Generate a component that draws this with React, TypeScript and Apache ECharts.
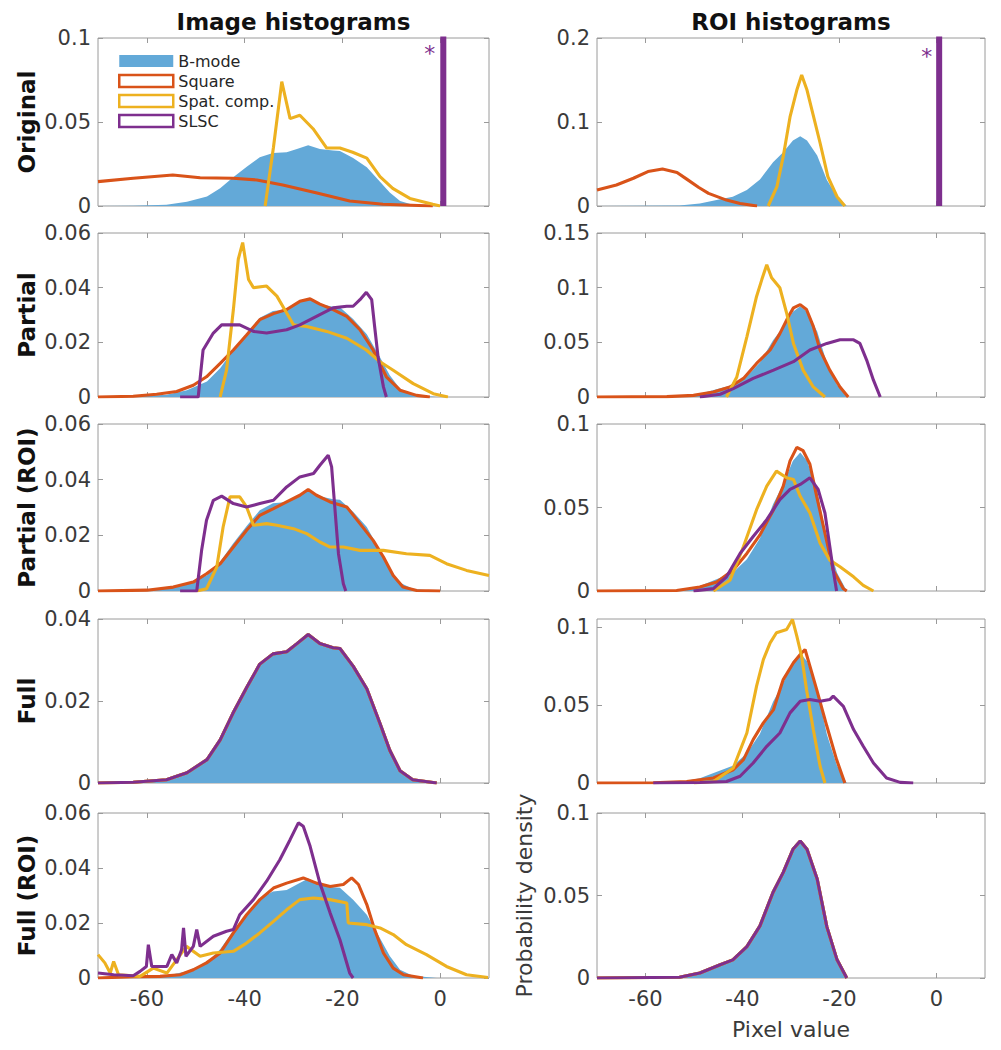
import React, { useEffect, useRef } from 'react';
import * as echarts from 'echarts';

// ---------- axes / labels ----------
const X_MIN = -70;
const X_MAX = 10;
const X_TICKS = [-60, -40, -20, 0];
const ROW_LABELS = ['Original', 'Partial', 'Partial (ROI)', 'Full', 'Full (ROI)'];
const COL_TITLES = ['Image histograms', 'ROI histograms'];
const SERIES_NAMES = ['B-mode', 'Square', 'Spat. comp.', 'SLSC'];
const Y_MAX_IMG = [0.1, 0.06, 0.06, 0.04, 0.06];
const Y_TICKS_IMG = [[0, 0.05, 0.1], [0, 0.02, 0.04, 0.06], [0, 0.02, 0.04, 0.06], [0, 0.02, 0.04], [0, 0.02, 0.04, 0.06]];
const Y_MAX_ROI = [0.2, 0.15, 0.1, 0.105, 0.1];
const Y_TICKS_ROI = [[0, 0.1, 0.2], [0, 0.05, 0.1, 0.15], [0, 0.05, 0.1], [0, 0.05, 0.1], [0, 0.05, 0.1]];
const X_LABEL = 'Pixel value';
const Y_LABEL = 'Probability density';
const ASTERISK_IMG: [number, number] = [-2.1, 0.091];
const ASTERISK_ROI: [number, number] = [-2.0, 0.178];

type P = [number, number][];

// ---------- B-mode (same in every row of a column) ----------
const BMODE_IMG: P = [[-70, 0], [-62.8, 0.0002], [-56, 0.0008], [-51.8, 0.0025], [-47.7, 0.0057], [-45, 0.0105], [-42.4, 0.017], [-39.5, 0.0235], [-36.9, 0.029], [-34.2, 0.0315], [-31.4, 0.032], [-29.3, 0.034], [-27, 0.0362], [-24.6, 0.034], [-21.9, 0.033], [-20.5, 0.0328], [-17.8, 0.0285], [-15, 0.023], [-12.3, 0.0145], [-10.3, 0.008], [-8.2, 0.003], [-5.6, 0.0008], [-0.7, 0]];
const BMODE_ROI: P = [[-70, 0], [-53, 0.0005], [-48.8, 0.003], [-44.6, 0.008], [-42, 0.011], [-39.1, 0.019], [-36.4, 0.0316], [-33.7, 0.052], [-31.6, 0.064], [-29.6, 0.078], [-28.1, 0.083], [-26.7, 0.078], [-24.6, 0.06], [-22.6, 0.031], [-20.5, 0.011], [-18.5, 0]];

// ---------- Original ----------
const ORIG_IMG_SQUARE: P = [[-70, 0.0145], [-62.8, 0.0165], [-54.7, 0.0185], [-49.1, 0.0168], [-42.4, 0.0165], [-37.5, 0.0155], [-32.2, 0.0125], [-25.2, 0.0077], [-18.5, 0.003], [-11.7, 0.001], [-1.5, 0]];
const ORIG_IMG_SPAT: P = [[-35.8, 0], [-34.1, 0.035], [-32.4, 0.074], [-30.7, 0.052], [-28.7, 0.054], [-26, 0.046], [-23.2, 0.0345], [-20.5, 0.0345], [-17.9, 0.032], [-15, 0.0285], [-12.3, 0.0175], [-9.7, 0.0105], [-6.2, 0.0045], [-1.5, 0.001], [0, 0]];
const ORIG_IMG_SLSC: P = [[0.35, 0], [0.35, 0.5], [0.95, 0.5], [0.95, 0]];
const ORIG_ROI_SQUARE: P = [[-70, 0.019], [-66, 0.025], [-62.5, 0.033], [-59.5, 0.041], [-56.5, 0.044], [-53.5, 0.04], [-51.5, 0.032], [-49, 0.022], [-47, 0.015], [-43.3, 0.007], [-40.5, 0.003], [-37, 0]];
const ORIG_ROI_SPAT: P = [[-34.7, 0], [-32.9, 0.023], [-31.6, 0.059], [-30.2, 0.106], [-28.8, 0.138], [-27.8, 0.156], [-26.7, 0.138], [-25.5, 0.11], [-24, 0.075], [-22.4, 0.035], [-20.5, 0.011], [-18.9, 0]];
const ORIG_ROI_SLSC: P = [[0.25, 0], [0.25, 0.5], [0.85, 0.5], [0.85, 0]];

// ---------- Partial ----------
const PART_IMG_SQUARE: P = [[-70, 0], [-62.8, 0.0003], [-58, 0.001], [-53.9, 0.002], [-50.5, 0.0043], [-47.8, 0.0074], [-45, 0.0123], [-42.3, 0.0172], [-39.6, 0.0227], [-36.9, 0.0283], [-34.1, 0.0305], [-31.4, 0.032], [-28.7, 0.035], [-26.6, 0.0359], [-24.6, 0.034], [-21.9, 0.032], [-19.1, 0.0295], [-16.4, 0.0246], [-13.7, 0.0172], [-11, 0.0074], [-8.2, 0.0025], [-4.8, 0.0006], [-2.1, 0]];
const PART_IMG_SPAT: P = [[-45, 0], [-43.7, 0.0098], [-42.3, 0.032], [-41.3, 0.0504], [-40.4, 0.0565], [-39.2, 0.043], [-38.2, 0.04], [-35.5, 0.0406], [-33.4, 0.0369], [-31.4, 0.0307], [-30, 0.0264], [-27.3, 0.0258], [-23.2, 0.024], [-19.1, 0.0215], [-15.1, 0.0172], [-12.3, 0.0129], [-9.6, 0.0098], [-5.5, 0.0049], [-1.4, 0.0012], [1.6, 0]];
const PART_IMG_SLSC: P = [[-53.2, 0], [-49.5, 0], [-48.5, 0.0172], [-46.4, 0.0234], [-44.7, 0.0264], [-41, 0.0264], [-38.2, 0.024], [-35.5, 0.0234], [-31.4, 0.0246], [-28.7, 0.0264], [-25.3, 0.0295], [-21.9, 0.0326], [-19.1, 0.0332], [-17.8, 0.0332], [-16.4, 0.0356], [-15.1, 0.0383], [-14, 0.0356], [-13.4, 0.0258], [-12.7, 0.0147], [-11.6, 0.0037], [-11, 0]];
const PART_ROI_SQUARE: P = [[-70, 0], [-55.6, 0.0003], [-50.1, 0.0015], [-46, 0.0046], [-42.6, 0.0092], [-39.8, 0.017], [-37.1, 0.0307], [-34.3, 0.043], [-32.3, 0.058], [-30.5, 0.0738], [-29.5, 0.0815], [-28.1, 0.0845], [-26.8, 0.08], [-25.4, 0.0646], [-24, 0.043], [-22, 0.0246], [-19.9, 0.0092], [-18.2, 0]];
const PART_ROI_SPAT: P = [[-43.3, 0], [-41.2, 0.018], [-39.1, 0.055], [-37.1, 0.092], [-36, 0.1076], [-35, 0.121], [-34, 0.109], [-32.3, 0.0999], [-30.9, 0.0768], [-29.5, 0.049], [-27.5, 0.0246], [-25.4, 0.0092], [-23, 0]];
const PART_ROI_SLSC: P = [[-48.8, 0], [-44.6, 0.0025], [-41.9, 0.0077], [-37.8, 0.017], [-33.6, 0.0246], [-29.5, 0.0323], [-26.1, 0.043], [-22.6, 0.049], [-19.9, 0.0523], [-17.1, 0.0523], [-15.8, 0.049], [-14.4, 0.0338], [-13, 0.0154], [-11.6, 0]];

// ---------- Partial (ROI) ----------
const PROI_IMG_SQUARE: P = [[-70, 0], [-60, 0.0003], [-54.6, 0.0014], [-50.5, 0.0032], [-47.8, 0.0062], [-45, 0.0098], [-42.3, 0.0158], [-39.6, 0.0218], [-36.9, 0.0272], [-34.1, 0.0296], [-31.4, 0.032], [-28.7, 0.0344], [-27, 0.0365], [-25.3, 0.0344], [-22.5, 0.032], [-19.1, 0.0302], [-16.4, 0.0242], [-13.7, 0.0182], [-11.6, 0.0122], [-9.6, 0.0056], [-7.6, 0.0014], [-4.8, 0.0002], [0, 0]];
const PROI_IMG_SPAT: P = [[-49.8, 0], [-47.8, 0.0008], [-45.7, 0.0086], [-44.4, 0.023], [-43, 0.0338], [-41, 0.0338], [-39.6, 0.0302], [-38.2, 0.0236], [-35.5, 0.0242], [-33.4, 0.0236], [-30, 0.0224], [-27.3, 0.0206], [-24.6, 0.0176], [-22.5, 0.0158], [-19.8, 0.0158], [-16.4, 0.0146], [-11.6, 0.0146], [-6.9, 0.0134], [-2.1, 0.0128], [1.3, 0.0098], [5.4, 0.0074], [10, 0.0056]];
const PROI_IMG_SLSC: P = [[-53.2, 0], [-49.8, 0], [-48.8, 0.0146], [-47.8, 0.0254], [-46.4, 0.0326], [-44.7, 0.0341], [-42.3, 0.0314], [-39.6, 0.0302], [-36.9, 0.0314], [-34.1, 0.0326], [-31.4, 0.0374], [-28.7, 0.041], [-25.9, 0.0422], [-24.6, 0.0452], [-22.9, 0.0488], [-22.2, 0.0446], [-21.5, 0.029], [-20.8, 0.0134], [-19.8, 0.0026], [-19.3, 0]];
const PROI_ROI_SQUARE: P = [[-70, 0], [-53.6, 0.0003], [-48.8, 0.0024], [-45.3, 0.0054], [-41.9, 0.0125], [-39.1, 0.0225], [-36.4, 0.0336], [-33.6, 0.0487], [-31.6, 0.0628], [-30.2, 0.0779], [-28.8, 0.086], [-27.5, 0.084], [-26.1, 0.0759], [-24.7, 0.0567], [-23, 0.0346], [-21.3, 0.0125], [-19.2, 0.0014], [-18.5, 0]];
const PROI_ROI_SPAT: P = [[-46, 0], [-42.6, 0.0064], [-39.8, 0.0266], [-37.1, 0.0487], [-35, 0.0628], [-33, 0.0718], [-30.9, 0.0678], [-29.5, 0.0668], [-28.1, 0.0567], [-26.1, 0.0467], [-24, 0.0286], [-22, 0.0185], [-19.9, 0.0145], [-17.1, 0.0085], [-15.1, 0.0034], [-13, 0]];
const PROI_ROI_SLSC: P = [[-50.1, 0], [-46, 0.0014], [-43.3, 0.0085], [-40.5, 0.0225], [-37.8, 0.0326], [-35, 0.0427], [-32.3, 0.0547], [-30.2, 0.0608], [-28.1, 0.0638], [-26.1, 0.0678], [-24.4, 0.0608], [-23, 0.0467], [-22, 0.0266], [-21.3, 0.0125], [-20.6, 0]];

// ---------- Full ----------
const FULL_IMG_SQUARE: P = BMODE_IMG;
const FULL_IMG_SPAT: P = BMODE_IMG;
const FULL_IMG_SLSC: P = BMODE_IMG;
const FULL_ROI_SQUARE: P = [[-70, 0], [-58.4, 0.0002], [-51.5, 0.001], [-46, 0.0032], [-41.9, 0.0085], [-39.8, 0.015], [-37.8, 0.0278], [-35.7, 0.0385], [-33.6, 0.047], [-31.6, 0.0662], [-29.5, 0.077], [-28.1, 0.0823], [-27.1, 0.0855], [-26.1, 0.0748], [-24.7, 0.0598], [-22.6, 0.0363], [-20.6, 0.015], [-18.9, 0]];
const FULL_ROI_SPAT: P = [[-50, 0], [-46, 0.001], [-41.9, 0.0096], [-39.1, 0.032], [-37.1, 0.062], [-35.7, 0.079], [-34.3, 0.0897], [-33, 0.0962], [-30.9, 0.0983], [-29.7, 0.1047], [-28.8, 0.094], [-27.8, 0.081], [-26.8, 0.0598], [-25.4, 0.0342], [-24, 0.0107], [-23, 0]];
const FULL_ROI_SLSC: P = [[-58.4, 0], [-48.8, 0.0003], [-43.3, 0.001], [-40.5, 0.0043], [-37.8, 0.0128], [-35, 0.0235], [-32.3, 0.032], [-30.2, 0.0449], [-28.1, 0.0523], [-26.1, 0.0534], [-24, 0.0523], [-22, 0.0534], [-21.3, 0.0556], [-19.2, 0.0491], [-17.1, 0.0342], [-15.1, 0.0235], [-13, 0.0128], [-10.3, 0.0032], [-7.5, 0.0004], [-4.8, 0]];

// ---------- Full (ROI) ----------
const FROI_IMG_SQUARE: P = [[-70, 0], [-62.8, 0.0005], [-57.3, 0.0006], [-53.2, 0.0012], [-50.5, 0.003], [-47.8, 0.0055], [-45, 0.0091], [-42.3, 0.0164], [-39.6, 0.023], [-36.9, 0.0285], [-34.1, 0.0327], [-31.4, 0.0345], [-28, 0.0364], [-25.3, 0.0345], [-22.5, 0.0333], [-19.8, 0.034], [-18.1, 0.0364], [-16.7, 0.034], [-15, 0.0267], [-13.4, 0.0176], [-11.6, 0.0091], [-9.6, 0.0036], [-7.5, 0.0012], [-3.5, 0]];
const FROI_IMG_SPAT: P = [[-70, 0.0085], [-68.6, 0.0055], [-67.5, 0.0018], [-66.8, 0.006], [-65.8, 0.0012], [-61.4, 0.0006], [-58.7, 0.0036], [-55.9, 0.0018], [-51.9, 0.0115], [-49.1, 0.0079], [-46.4, 0.0091], [-42.3, 0.0097], [-39.6, 0.0127], [-36.9, 0.0164], [-34.1, 0.0206], [-31.4, 0.0248], [-28.7, 0.0285], [-25.9, 0.0291], [-22.5, 0.0285], [-19.1, 0.0273], [-18.8, 0.02], [-15, 0.0194], [-12.3, 0.0182], [-9.6, 0.0158], [-6.9, 0.0121], [-2.8, 0.0085], [1.3, 0.0042], [5.4, 0.0012], [9.8, 0.0002]];
const FROI_IMG_SLSC: P = [[-70, 0.0018], [-66.8, 0.0012], [-62.8, 0.0008], [-61.4, 0.0024], [-60.1, 0.0042], [-59.7, 0.0121], [-59, 0.0042], [-55.9, 0.0042], [-54.9, 0.0085], [-53.9, 0.0055], [-52.9, 0.0103], [-52.5, 0.0182], [-52, 0.0079], [-50.5, 0.0115], [-49.8, 0.0176], [-49.1, 0.0115], [-46.4, 0.0152], [-43.7, 0.017], [-42.3, 0.0176], [-41, 0.023], [-38.2, 0.0285], [-35.5, 0.0352], [-32.8, 0.043], [-30.7, 0.0503], [-29, 0.0564], [-28, 0.0552], [-26.6, 0.0479], [-24.6, 0.0345], [-22.5, 0.0236], [-20.5, 0.0139], [-18.5, 0.0018], [-17.8, 0]];
const FROI_ROI_SQUARE: P = BMODE_ROI;
const FROI_ROI_SPAT: P = BMODE_ROI;
const FROI_ROI_SLSC: P = BMODE_ROI;

// ---------- assembly ----------
const IMG_ROWS = [
  [ORIG_IMG_SQUARE, ORIG_IMG_SPAT, ORIG_IMG_SLSC],
  [PART_IMG_SQUARE, PART_IMG_SPAT, PART_IMG_SLSC],
  [PROI_IMG_SQUARE, PROI_IMG_SPAT, PROI_IMG_SLSC],
  [FULL_IMG_SQUARE, FULL_IMG_SPAT, FULL_IMG_SLSC],
  [FROI_IMG_SQUARE, FROI_IMG_SPAT, FROI_IMG_SLSC],
];
const ROI_ROWS = [
  [ORIG_ROI_SQUARE, ORIG_ROI_SPAT, ORIG_ROI_SLSC],
  [PART_ROI_SQUARE, PART_ROI_SPAT, PART_ROI_SLSC],
  [PROI_ROI_SQUARE, PROI_ROI_SPAT, PROI_ROI_SLSC],
  [FULL_ROI_SQUARE, FULL_ROI_SPAT, FULL_ROI_SLSC],
  [FROI_ROI_SQUARE, FROI_ROI_SPAT, FROI_ROI_SLSC],
];

const FONT = '"DejaVu Sans", "Liberation Sans", sans-serif';
const COLORS = ['#63A9D8', '#D95319', '#EDB120', '#7E2F8E'];
const FRAME = '#9a9a9a';
const TICK_TEXT = '#3a3a3a';
const COL_LEFT = [98, 597];
const COL_W = [391, 388];
const ROW_TOP = [38, 233, 424, 619, 813];
const ROW_H = [168, 164, 167, 164, 165];
const LINE_W = 3.1;

function fmt(v: number) {
  return String(Number(v.toFixed(3)));
}

function buildOption() {
  const grid: any[] = [];
  const xAxis: any[] = [];
  const yAxis: any[] = [];
  const series: any[] = [];
  const noLine = { show: false, onZero: false };
  for (let r = 0; r < 5; r++) {
    for (let c = 0; c < 2; c++) {
      const p = r * 2 + c;
      const yMax = c === 0 ? Y_MAX_IMG[r] : Y_MAX_ROI[r];
      const yTicks = c === 0 ? Y_TICKS_IMG[r] : Y_TICKS_ROI[r];
      const rows = c === 0 ? IMG_ROWS : ROI_ROWS;
      const bmode = c === 0 ? BMODE_IMG : BMODE_ROI;
      grid.push({
        left: COL_LEFT[c], top: ROW_TOP[r], width: COL_W[c], height: ROW_H[r],
        show: true, borderColor: FRAME, borderWidth: 1, backgroundColor: '#fff', containLabel: false,
      });
      const tick = { show: true, inside: true, length: 5, lineStyle: { color: FRAME, width: 1 } };
      const isBottom = r === 4;
      xAxis.push({
        gridIndex: p, type: 'value', position: 'bottom', min: X_MIN, max: X_MAX,
        splitLine: { show: false }, axisLine: noLine,
        axisTick: { ...tick, customValues: X_TICKS },
        axisLabel: { show: isBottom, customValues: X_TICKS, fontSize: 21, color: TICK_TEXT, fontFamily: FONT, margin: 10 },
        name: isBottom && c === 1 ? X_LABEL : '', nameLocation: 'middle', nameGap: 40,
        nameTextStyle: { fontSize: 22, color: TICK_TEXT, fontFamily: FONT },
      });
      xAxis.push({
        gridIndex: p, type: 'value', position: 'top', min: X_MIN, max: X_MAX,
        splitLine: { show: false }, axisLine: noLine,
        axisTick: { ...tick, customValues: X_TICKS }, axisLabel: { show: false },
      });
      yAxis.push({
        gridIndex: p, type: 'value', position: 'left', min: 0, max: yMax,
        splitLine: { show: false }, axisLine: noLine,
        axisTick: { ...tick, customValues: yTicks },
        axisLabel: { customValues: yTicks, fontSize: 21, color: TICK_TEXT, fontFamily: FONT, margin: 7, formatter: fmt },
        name: c === 0 ? ROW_LABELS[r] : (r === 4 ? Y_LABEL : ''),
        nameLocation: 'middle', nameGap: c === 0 ? 60 : 62,
        nameTextStyle: c === 0
          ? { fontSize: 23, fontWeight: 'bold', color: '#111', fontFamily: FONT }
          : { fontSize: 22, color: TICK_TEXT, fontFamily: FONT },
      });
      yAxis.push({
        gridIndex: p, type: 'value', position: 'right', min: 0, max: yMax,
        splitLine: { show: false }, axisLine: noLine,
        axisTick: { ...tick, customValues: yTicks }, axisLabel: { show: false },
      });
      const ax = { xAxisIndex: 2 * p, yAxisIndex: 2 * p };
      series.push({
        name: SERIES_NAMES[0], type: 'line', ...ax, data: bmode, symbol: 'none', silent: true,
        lineStyle: { width: 0, opacity: 0 }, itemStyle: { color: COLORS[0] },
        areaStyle: { color: COLORS[0], opacity: 1 }, z: 1,
      });
      const [sq, sp, sl] = rows[r];
      [sq, sp, sl].forEach((d, k) => {
        const s: any = {
          name: SERIES_NAMES[k + 1], type: 'line', ...ax, data: d, symbol: 'none', silent: true,
          lineStyle: { width: LINE_W, color: COLORS[k + 1] }, itemStyle: { color: COLORS[k + 1] }, z: 2 + k,
        };
        if (k === 2 && r === 0) {
          s.markPoint = {
            symbol: 'circle', symbolSize: 1, silent: true,
            itemStyle: { color: 'rgba(0,0,0,0)' },
            label: { show: true, position: 'inside', formatter: '*', color: COLORS[3], fontSize: 22, fontFamily: FONT },
            data: [{ coord: c === 0 ? ASTERISK_IMG : ASTERISK_ROI }],
          };
        }
        series.push(s);
      });
    }
  }
  return {
    animation: false,
    backgroundColor: '#fff',
    textStyle: { fontFamily: FONT },
    grid, xAxis, yAxis, series,
    legend: {
      orient: 'vertical', left: 118, top: 53, itemWidth: 54, itemHeight: 12, itemGap: 4,
      selectedMode: false, padding: 0,
      textStyle: { fontSize: 16, color: '#262626', fontFamily: FONT },
      data: [
        { name: SERIES_NAMES[0], icon: 'rect', itemStyle: { color: COLORS[0], borderWidth: 0 } },
        { name: SERIES_NAMES[1], icon: 'rect', itemStyle: { color: '#fff', borderColor: COLORS[1], borderWidth: 2.5 } },
        { name: SERIES_NAMES[2], icon: 'rect', itemStyle: { color: '#fff', borderColor: COLORS[2], borderWidth: 2.5 } },
        { name: SERIES_NAMES[3], icon: 'rect', itemStyle: { color: '#fff', borderColor: COLORS[3], borderWidth: 2.5 } },
      ],
    },
    graphic: COL_TITLES.map((t, c) => ({
      type: 'text', x: COL_LEFT[c] + COL_W[c] / 2, y: 22,
      style: { text: t, fontSize: 23, fontWeight: 'bold', fontFamily: FONT, fill: '#111', align: 'center', verticalAlign: 'middle' },
    })),
  };
}

export default function App() {
  const ref = useRef<HTMLDivElement>(null);
  useEffect(() => {
    const chart = echarts.init(ref.current as HTMLDivElement, null, { renderer: 'svg' });
    chart.setOption(buildOption() as any);
    return () => chart.dispose();
  }, []);
  return (
    <div
      ref={ref}
      style={{ position: 'absolute', left: 0, top: 0, width: 1001, height: 1050, background: '#fff' }}
    />
  );
}
